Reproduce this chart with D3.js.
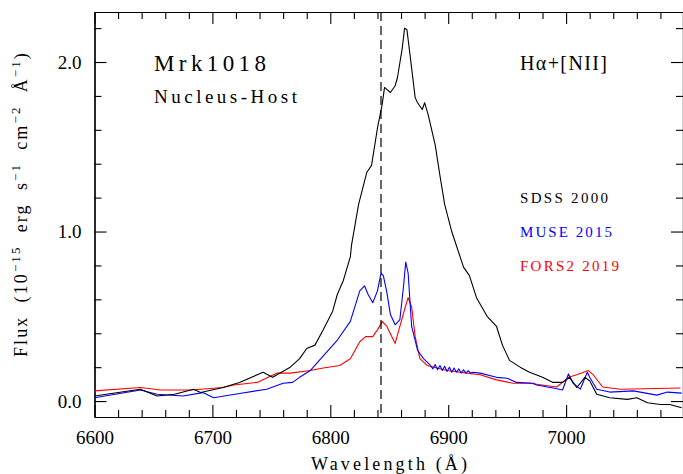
<!DOCTYPE html>
<html>
<head>
<meta charset="utf-8">
<script src="https://cdn.jsdelivr.net/npm/d3@7"></script>
<style>
  body { margin: 0; background: #fff; }
  svg text { font-family: "Liberation Serif", "DejaVu Serif", serif; }
</style>
</head>
<body>
<div id="graph"></div>
<script>
// SDSS 2000 (black)
const waveSdss = [6600, 6639, 6653, 6668, 6684, 6690, 6709, 6723, 6743, 6751, 6766, 6774, 6780, 6787, 6794,
  6802, 6806, 6811, 6817, 6818, 6824, 6831, 6835, 6840, 6844, 6846, 6851, 6855, 6857, 6861, 6863, 6865,
  6868, 6872, 6874, 6878, 6880, 6883, 6889, 6893, 6897, 6903, 6913, 6918, 6924, 6933, 6941, 6946, 6952,
  6961, 6969, 6980, 6989, 6997, 7003, 7009, 7016, 7020, 7026, 7037, 7052, 7060, 7069, 7080, 7088, 7098];
const fluxSdss = [0.03, 0.07, 0.03, 0.04, 0.07, 0.05, 0.08, 0.11, 0.17, 0.14, 0.20, 0.25, 0.31, 0.33, 0.42,
  0.53, 0.63, 0.71, 0.85, 0.92, 1.16, 1.35, 1.39, 1.61, 1.75, 1.85, 1.82, 1.86, 1.91, 2.08, 2.20, 2.19,
  2.02, 1.79, 1.76, 1.72, 1.76, 1.69, 1.51, 1.33, 1.16, 1.00, 0.79, 0.74, 0.61, 0.50, 0.44, 0.33, 0.24,
  0.20, 0.17, 0.14, 0.11, 0.11, 0.14, 0.08, 0.14, 0.12, 0.04, 0.02, 0.01, 0.02, -0.01, -0.02, -0.02, -0.04];

// MUSE 2015 (blue)
const waveMuse = [6600, 6639, 6653, 6675, 6692, 6701, 6723, 6746, 6760, 6768, 6774, 6783, 6792, 6806, 6817,
  6825, 6829, 6832, 6836, 6840, 6843, 6845, 6848, 6851, 6855, 6859, 6862, 6864, 6866, 6869, 6874, 6879,
  6885, 6887, 6889, 6891, 6893, 6895, 6897, 6899, 6901, 6903, 6905, 6907, 6909, 6911, 6913, 6915, 6917,
  6919, 6921, 6927, 6941, 6950, 6958, 6972, 6975, 6989, 6997, 7002, 7006, 7012, 7018, 7020, 7026, 7037,
  7057, 7077, 7086, 7098];
const fluxMuse = [0.02, 0.065, 0.04, 0.03, 0.05, 0.02, 0.045, 0.07, 0.105, 0.11, 0.14, 0.18, 0.25, 0.36, 0.47,
  0.65, 0.68, 0.63, 0.58, 0.65, 0.755, 0.74, 0.64, 0.51, 0.45, 0.48, 0.67, 0.82, 0.755, 0.44, 0.30, 0.25,
  0.21, 0.19, 0.215, 0.185, 0.21, 0.18, 0.205, 0.175, 0.20, 0.17, 0.195, 0.17, 0.19, 0.165, 0.185, 0.165, 0.18,
  0.165, 0.17, 0.165, 0.14, 0.135, 0.11, 0.105, 0.095, 0.077, 0.065, 0.16, 0.105, 0.07, 0.17, 0.14, 0.07, 0.053,
  0.06, 0.035, 0.053, 0.047];

// FORS2 2019 (red)
const waveFors = [6600, 6639, 6656, 6681, 6690, 6709, 6718, 6738, 6755, 6766, 6783, 6794, 6808, 6817, 6825,
  6830, 6836, 6840, 6844, 6848, 6855, 6859, 6863, 6866, 6869, 6872, 6876, 6882, 6899, 6916, 6927, 6941,
  6955, 6969, 6984, 6992, 7002, 7009, 7019, 7023, 7031, 7046, 7097];
const fluxFors = [0.06, 0.08, 0.065, 0.065, 0.07, 0.08, 0.095, 0.11, 0.165, 0.165, 0.18, 0.195, 0.21, 0.25, 0.35,
  0.38, 0.38, 0.42, 0.47, 0.44, 0.34, 0.44, 0.54, 0.61, 0.555, 0.38, 0.25, 0.21, 0.18, 0.165, 0.155, 0.125,
  0.105, 0.105, 0.09, 0.083, 0.14, 0.155, 0.18, 0.155, 0.083, 0.07, 0.077];

const seriesNames = ["SDSS 2000", "MUSE 2015", "FORS2 2019"];
const seriesColors = ["#000000", "#0000ff", "#ff0000"];
const xMajor = [6600, 6700, 6800, 6900, 7000];
const yMajor = [0, 1, 2];
const haLine = 6843;

var width = 683, height = 474;
var svg = d3.select("#graph").append("svg")
  .attr("width", width).attr("height", height);

var x = d3.scaleLinear().domain([6600, 7100]).range([94.5, 684]);
var y = d3.scaleLinear().domain([-0.094, 2.295]).range([417, 12]);

var xMinor = d3.range(6600, 7101, 20).filter(function(v){ return v % 100 !== 0; });
var yMinor = d3.range(-0.0, 2.3, 0.2).map(function(v){ return +v.toFixed(1); })
  .filter(function(v){ return Math.abs(v - Math.round(v)) > 0.01; });

function axisStyle(g){
  g.select(".domain").attr("stroke", "#000").attr("stroke-width", 1.2);
  g.selectAll(".tick line").attr("stroke", "#000").attr("stroke-width", 1.1);
  g.selectAll(".tick text").attr("fill", "#000").style("font-size", "19px")
    .style("font-family", "'Liberation Serif', serif");
}

// bottom
svg.append("g").attr("transform", "translate(0,417)")
  .call(d3.axisBottom(x).tickValues(xMajor).tickFormat(d3.format("d"))
    .tickSizeInner(-12).tickSizeOuter(0).tickPadding(14))
  .call(axisStyle);
svg.append("g").attr("transform", "translate(0,417)")
  .call(d3.axisBottom(x).tickValues(xMinor).tickFormat("").tickSizeInner(-7).tickSizeOuter(0))
  .call(axisStyle);
// top
svg.append("g").attr("transform", "translate(0,12)")
  .call(d3.axisTop(x).tickValues(xMajor).tickFormat("").tickSizeInner(-12).tickSizeOuter(0))
  .call(axisStyle);
svg.append("g").attr("transform", "translate(0,12)")
  .call(d3.axisTop(x).tickValues(xMinor).tickFormat("").tickSizeInner(-7).tickSizeOuter(0))
  .call(axisStyle);
// left
svg.append("g").attr("transform", "translate(94.5,0)")
  .call(d3.axisLeft(y).tickValues(yMajor).tickFormat(d3.format(".1f"))
    .tickSizeInner(-12).tickSizeOuter(0).tickPadding(13))
  .call(axisStyle);
svg.append("g").attr("transform", "translate(94.5,0)")
  .call(d3.axisLeft(y).tickValues(yMinor).tickFormat("").tickSizeInner(-7).tickSizeOuter(0))
  .call(axisStyle);
// right
svg.append("g").attr("transform", "translate(683,0)")
  .call(d3.axisRight(y).tickValues(yMajor).tickFormat("").tickSizeInner(-12).tickSizeOuter(0))
  .call(axisStyle);
svg.append("g").attr("transform", "translate(683,0)")
  .call(d3.axisRight(y).tickValues(yMinor).tickFormat("").tickSizeInner(-7).tickSizeOuter(0))
  .call(axisStyle);

// clip for curves
svg.append("clipPath").attr("id", "clip").append("rect")
  .attr("x", 94.5).attr("y", 12).attr("width", 589.5).attr("height", 405);

var line = d3.line()
  .x(function(d){ return x(d[0]); })
  .y(function(d){ return y(d[1]); });

var series = [d3.zip(waveSdss, fluxSdss), d3.zip(waveMuse, fluxMuse), d3.zip(waveFors, fluxFors)];
// draw red, blue, then black on top
[2, 1, 0].forEach(function(i){
  svg.append("path")
    .datum(series[i])
    .attr("clip-path", "url(#clip)")
    .attr("fill", "none")
    .attr("stroke", seriesColors[i])
    .attr("stroke-width", 1.1)
    .attr("stroke-linejoin", "round")
    .attr("d", line);
});

// H-alpha dashed line
svg.append("line")
  .attr("x1", x(haLine)).attr("x2", x(haLine))
  .attr("y1", 12).attr("y2", 417)
  .attr("stroke", "#000").attr("stroke-width", 1.2)
  .attr("stroke-dasharray", "9,5");

// labels
svg.append("text").attr("x", 154).attr("y", 71)
  .attr("textLength", 112).attr("lengthAdjust", "spacing")
  .style("font-size", "23px").text("Mrk1018");
svg.append("text").attr("x", 154).attr("y", 103)
  .attr("textLength", 143).attr("lengthAdjust", "spacing")
  .style("font-size", "19px").text("Nucleus-Host");
svg.append("text").attr("x", 520).attr("y", 70)
  .attr("textLength", 87).attr("lengthAdjust", "spacing")
  .style("font-size", "20px").text("H\u03b1+[NII]");

var legendY = [203, 237, 271];
var legendW = [88, 92, 99];
seriesNames.forEach(function(name, i){
  svg.append("text").attr("x", 520).attr("y", legendY[i])
    .attr("textLength", legendW[i]).attr("lengthAdjust", "spacing")
    .attr("fill", seriesColors[i])
    .style("font-size", "15px").text(name);
});

// axis titles
svg.append("text").attr("x", 389).attr("y", 470)
  .attr("text-anchor", "middle")
  .attr("textLength", 156).attr("lengthAdjust", "spacing")
  .style("font-size", "18px").text("Wavelength (\u00c5)");

var ylab = svg.append("text")
  .attr("transform", "translate(27,357) rotate(-90)")
  .style("font-size", "18px")
  .style("white-space", "pre")
  .style("letter-spacing", "2.1px");
ylab.append("tspan").text("Flux  (10");
ylab.append("tspan").attr("dy", -7).style("font-size", "13px").text("\u221215");
ylab.append("tspan").attr("dy", 7).text("  erg  s");
ylab.append("tspan").attr("dy", -7).style("font-size", "13px").text("\u22121");
ylab.append("tspan").attr("dy", 7).text("  cm");
ylab.append("tspan").attr("dy", -7).style("font-size", "13px").text("\u22122");
ylab.append("tspan").attr("dy", 7).text("  \u00c5");
ylab.append("tspan").attr("dy", -7).style("font-size", "13px").text("\u22121");
ylab.append("tspan").attr("dy", 7).text(")");
</script>
</body>
</html>
